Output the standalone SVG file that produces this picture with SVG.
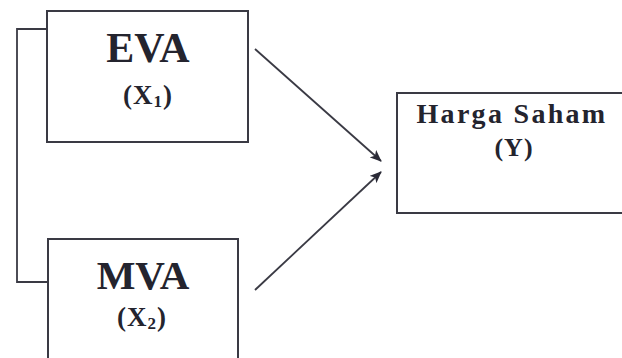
<svg xmlns="http://www.w3.org/2000/svg" width="622" height="358" viewBox="0 0 622 358">
<defs>
<style>
.box{fill:#fff;stroke:#3a3a44;stroke-width:2}
.t{font-family:"Liberation Serif","Times New Roman",serif;font-weight:bold;fill:#24242e;text-anchor:middle}
.ln{fill:none;stroke:#3a3a44;stroke-width:1.8}
</style>
<marker id="ah" viewBox="0 0 12 10" refX="11" refY="5" markerWidth="12" markerHeight="10" markerUnits="userSpaceOnUse" orient="auto">
<path d="M0,0 L12,5 L0,10 L3,5 Z" fill="#2a2a36"/>
</marker>
</defs>
<rect width="622" height="358" fill="#fff"/>
<g id="connectors">
<path class="ln" d="M47,29 H17 V282 H48"/>
<line class="ln" x1="255" y1="49" x2="381" y2="161" marker-end="url(#ah)"/>
<line class="ln" x1="255" y1="290" x2="381" y2="172" marker-end="url(#ah)"/>
</g>
<g id="eva">
<rect class="box" x="47" y="11" width="201" height="131"/>
<text class="t" x="148" y="62" font-size="42">EVA</text>
<text class="t" x="148" y="104" font-size="27" letter-spacing="1">(X<tspan font-size="17" dy="3">1</tspan><tspan dy="-3">)</tspan></text>
</g>
<g id="mva">
<rect class="box" x="48" y="239" width="190" height="130"/>
<text class="t" x="143" y="289" font-size="41">MVA</text>
<text class="t" x="142" y="326" font-size="27" letter-spacing="1">(X<tspan font-size="17" dy="3">2</tspan><tspan dy="-3">)</tspan></text>
</g>
<g id="harga">
<rect class="box" x="397" y="93" width="240" height="120"/>
<text class="t" x="512" y="123" font-size="28" letter-spacing="2.3">Harga Saham</text>
<text class="t" x="514" y="156" font-size="26" letter-spacing="1">(Y)</text>
</g>
</svg>
